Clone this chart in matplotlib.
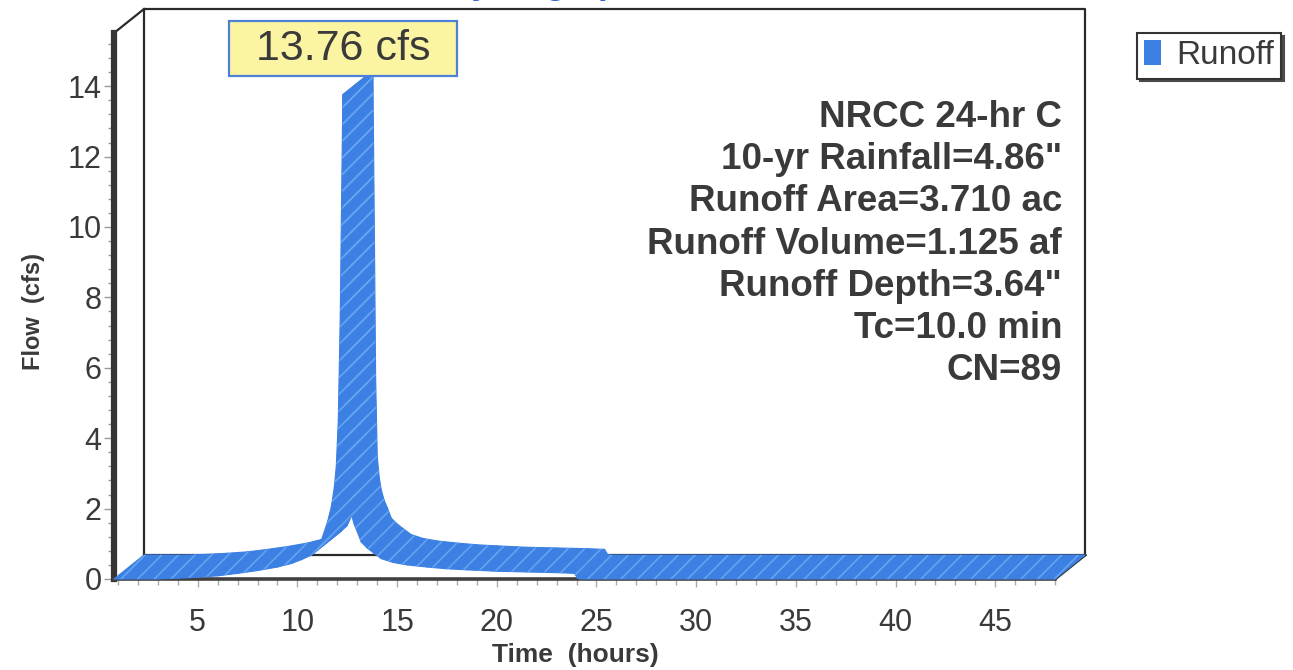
import matplotlib
matplotlib.use("Agg")
import matplotlib.pyplot as plt
from matplotlib.collections import PolyCollection
from matplotlib.patches import Patch
from matplotlib.ticker import MultipleLocator

plt.rcParams['font.family'] = ['Liberation Sans', 'DejaVu Sans']
plt.rcParams['hatch.linewidth'] = 1.2

# Runoff hydrograph (front edge of the ribbon), hours vs cfs
hours = [0.8, 2.0, 3.0, 4.0, 5.0, 6.0, 7.0, 8.0, 9.0, 9.7, 10.2, 10.7, 11.0,
         11.2, 11.5, 11.7, 11.85, 11.95, 12.05, 12.15, 12.22, 12.28, 12.35,
         12.42, 12.5, 12.6, 12.7, 12.85, 13.0, 13.2, 13.5, 13.8, 14.2, 14.8,
         15.5, 16.5, 17.5, 18.5, 20.0, 21.5, 23.0, 23.9, 24.05, 24.2, 30.0,
         40.0, 48.0]
flow = [0.0, 0.0, 0.0, 0.02, 0.05, 0.09, 0.16, 0.24, 0.34, 0.44, 0.55, 0.68,
        0.85, 1.1, 1.6, 2.05, 2.6, 3.2, 4.5, 7.5, 11.0, 13.76, 9.5, 5.0, 2.8,
        2.2, 1.85, 1.55, 1.35, 1.05, 0.88, 0.75, 0.58, 0.47, 0.4, 0.34, 0.29,
        0.26, 0.22, 0.2, 0.18, 0.16, 0.02, 0.0, 0.0, 0.0, 0.0]

series_name = "Runoff"
peak_units = "cfs"
x_ticks = [5, 10, 15, 20, 25, 30, 35, 40, 45]
y_ticks = [0, 2, 4, 6, 8, 10, 12, 14]
storm_info = ["NRCC 24-hr C",
              "10-yr Rainfall=4.86\"",
              "Runoff Area=3.710 ac",
              "Runoff Volume=1.125 af",
              "Runoff Depth=3.64\"",
              "Tc=10.0 min",
              "CN=89"]

RIBBON = '#3b80e2'
STRIPE = '#66a3f2'
INK = '#3a3a3a'
# depth of the 3D box in pixels (right, up)
DEPTH_DX, DEPTH_DY = 30, 24

W, H = 1293, 670
fig = plt.figure(figsize=(W / 100, H / 100), dpi=100)
left, right, bottom, top = 114, 1055, 579, 33
ax = fig.add_axes([left / W, (H - bottom) / H, (right - left) / W, (bottom - top) / H])
ax.set_xlim(0.8, 48.0)
ax.set_ylim(0, (bottom - top) / 35.2)
ax.patch.set_alpha(0)

# depth offset converted to data units
inv = ax.transData.inverted()
origin = ax.transData.transform((0, 0))
ox, oy = inv.transform(origin + (DEPTH_DX, DEPTH_DY)) - inv.transform(origin)
xmin, xmax = ax.get_xlim()
ymin, ymax = ax.get_ylim()

# back wall and the box edges
line_kw = dict(color='#2a2a2a', lw=1.6, clip_on=False, zorder=1)
ax.plot([xmin + ox, xmin + ox, xmax + ox, xmax + ox],
        [ymin + oy, ymax + oy, ymax + oy, ymin + oy], **line_kw)
ax.plot([xmin + ox, xmax + ox], [ymin + oy, ymin + oy], **line_kw)
ax.plot([xmin, xmin + ox], [ymax, ymax + oy], **line_kw)
ax.plot([xmax, xmax + ox], [ymin, ymin + oy], color='#2a2a2a', lw=2.2,
        clip_on=False, zorder=1)

# ribbon: one quad per segment between front and back edges
quads = []
for i in range(len(hours) - 1):
    x0, x1 = hours[i], hours[i + 1]
    y0, y1 = flow[i], flow[i + 1]
    quads.append([(x0, y0), (x1, y1), (x1 + ox, y1 + oy), (x0 + ox, y0 + oy)])
ax.add_collection(PolyCollection(quads, facecolors=RIBBON, edgecolors=RIBBON,
                                 linewidths=0.8, clip_on=False, zorder=3))
ax.add_collection(PolyCollection(quads, facecolors='none', edgecolors=STRIPE,
                                 linewidths=0, hatch='//', clip_on=False,
                                 zorder=3.1))

# peak label
peak = max(flow)
t_peak = hours[flow.index(peak)]
ax.annotate(f"{peak:.2f} {peak_units}", xy=(t_peak, peak), xytext=(0, 33),
            textcoords='offset points', ha='center', va='center',
            fontsize=31, color=INK, zorder=6, annotation_clip=False,
            bbox=dict(boxstyle='square,pad=0.62', mutation_aspect=0.28,
                      fc='#fbf4a2', ec='#4f80d8', lw=1.6))

# axes styling
for s in ('top', 'right'):
    ax.spines[s].set_visible(False)
ax.spines['left'].set_linewidth(4.5)
ax.spines['left'].set_color('#353535')
ax.spines['bottom'].set_linewidth(2.6)
ax.spines['bottom'].set_color('#404040')

ax.set_xticks(x_ticks)
ax.set_yticks(y_ticks)
ax.xaxis.set_minor_locator(MultipleLocator(1))
ax.yaxis.set_minor_locator(MultipleLocator(0.4))
ax.tick_params(axis='x', which='major', length=6, width=1, color='#aaaaaa',
               labelsize=22, labelcolor=INK, pad=15)
ax.tick_params(axis='x', which='minor', length=4, width=1, color='#aaaaaa')
ax.tick_params(axis='y', which='major', length=7, width=1, color='#999999',
               labelsize=22, labelcolor=INK, pad=2)
ax.tick_params(axis='y', which='minor', length=4, width=1, color='#999999')

ax.set_ylabel("Flow  (cfs)", fontsize=17, fontweight='bold', color=INK)
ax.yaxis.set_label_coords((45 - left) / (right - left), (bottom - 312) / (bottom - top))
ax.set_xlabel("Time  (hours)", fontsize=19, fontweight='bold', color=INK)
ax.xaxis.set_label_coords((575 - left) / (right - left), (bottom - 655) / (bottom - top))
ax.xaxis.label.set_va('center')

# storm summary
ax.text(1.0075, (bottom - 244) / (bottom - top), "\n".join(storm_info),
        transform=ax.transAxes, ha='right', va='center', multialignment='right',
        fontsize=26.5, fontweight='bold', color=INK, linespacing=1.26, zorder=5)

# legend with shadow
leg = fig.legend(handles=[Patch(facecolor=RIBBON, edgecolor='none', label=series_name)],
                 loc='upper left', bbox_to_anchor=(1137 / W, 1 - 33 / H),
                 fontsize=24, handlelength=0.5, handleheight=0.75,
                 handletextpad=0.45, borderpad=0.22, borderaxespad=0,
                 fancybox=False, shadow={'color': '#4a4a4a', 'alpha': 1},
                 framealpha=1, edgecolor='#333333')
leg.get_frame().set_linewidth(1.5)
for txt in leg.get_texts():
    txt.set_color(INK)

# chart title running off the top edge
fig.text(640 / W, 1 + 6.5 / H, "Hydrograph", ha='right', va='baseline',
         fontsize=24.5, fontweight='bold', color='#2f62d4')

fig.savefig("out.png", dpi=100)
